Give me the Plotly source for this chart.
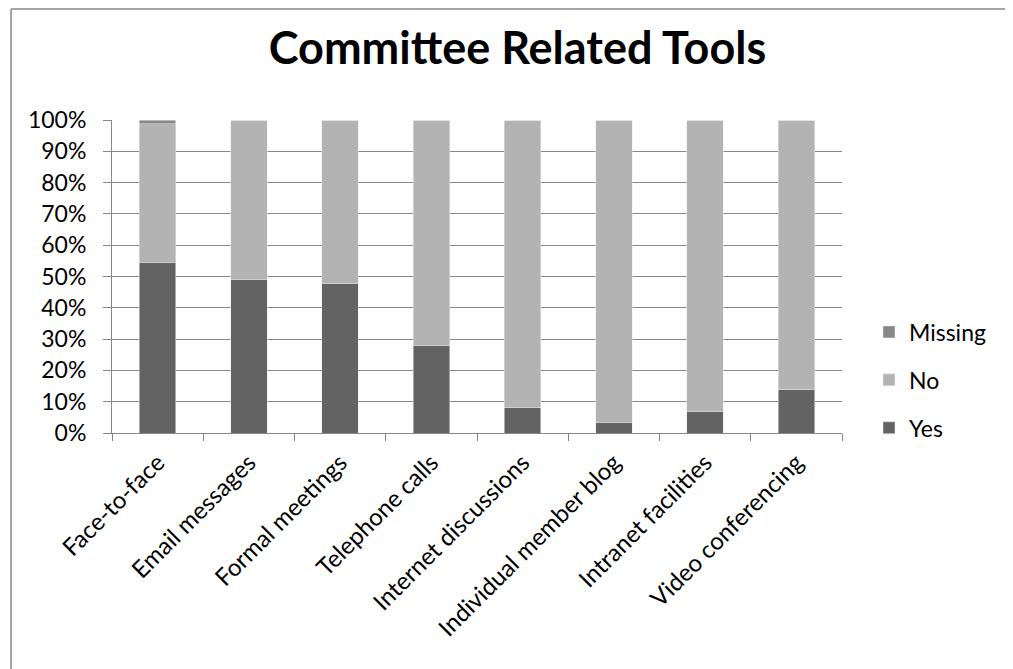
import plotly.graph_objects as go

categories = ["Face-to-face", "Email messages", "Formal meetings", "Telephone calls",
              "Internet discussions", "Individual member blog", "Intranet facilities",
              "Video conferencing"]
yes_vals = [54.6, 48.9, 47.7, 27.8, 8.1, 3.4, 7.0, 13.8]
no_vals = [44.2, 51.1, 52.3, 72.2, 91.9, 96.6, 93.0, 86.2]
missing_vals = [1.2, 0, 0, 0, 0, 0, 0, 0]

FONT = "Lato, 'Open Sans', sans-serif"

# page body adds an 8px offset; positions below are in reference pixels
OFF = 8
W, H = 1013 - OFF, 669 - OFF
L, R, T, B = 112 - OFF, 842 - OFF, 120 - OFF, 433 - OFF

def px(x):
    return (x - OFF - L) / (R - L)

def py(y):
    return (B - (y - OFF)) / (B - T)

fig = go.Figure()
fig.add_trace(go.Bar(name="Yes", x=categories, y=yes_vals, marker_color="#636363",
                     legendrank=3, legendgroup="yes"))
fig.add_trace(go.Bar(name="No", x=categories, y=no_vals, marker_color="#b3b3b3",
                     legendrank=2, legendgroup="no"))
fig.add_trace(go.Bar(name="Missing", x=categories, y=missing_vals, marker_color="#878787",
                     legendrank=1, legendgroup="missing"))

fig.update_layout(
    width=W, height=H,
    barmode="stack", bargap=0.6,
    plot_bgcolor="white", paper_bgcolor="white",
    margin=dict(l=L, r=W - R, t=T, b=H - B, pad=0),
    font=dict(family=FONT, size=23, color="#000000"),
    title=dict(text="<b>Committee Related Tools</b>",
               x=((272 + 763) / 2 - OFF) / W, xanchor="center",
               y=1 - (48 - OFF) / H, yanchor="middle",
               font=dict(family=FONT, size=45, color="#000")),
    legend=dict(x=px(869), xanchor="left", y=py(380), yanchor="middle",
                traceorder="grouped", tracegroupgap=15,
                font=dict(family=FONT, size=23), bgcolor="rgba(0,0,0,0)"),
    showlegend=True,
)
fig.update_yaxes(range=[0, 100], dtick=10, ticksuffix="%", showgrid=True,
                 gridcolor="#878787", gridwidth=1, showline=True, linecolor="#878787",
                 linewidth=1, ticks="outside", ticklen=8, tickcolor="#878787",
                 ticklabelstandoff=12,
                 zeroline=False, tickfont=dict(family=FONT, size=23))
fig.update_xaxes(showline=True, linecolor="#878787", linewidth=1, ticks="outside",
                 ticklen=7, tickcolor="#878787", tickson="boundaries", tickangle=-45,
                 ticklabelstandoff=5,
                 tickfont=dict(family=FONT, size=24))

# outer chart border (only top and left edges visible)
fig.add_shape(type="line", xref="paper", yref="paper", x0=px(11), x1=px(1013),
              y0=py(9), y1=py(9), line=dict(color="#888888", width=1.5))
fig.add_shape(type="line", xref="paper", yref="paper", x0=px(11), x1=px(11),
              y0=py(9), y1=py(669), line=dict(color="#888888", width=1.5))

fig.write_html("out.html")
